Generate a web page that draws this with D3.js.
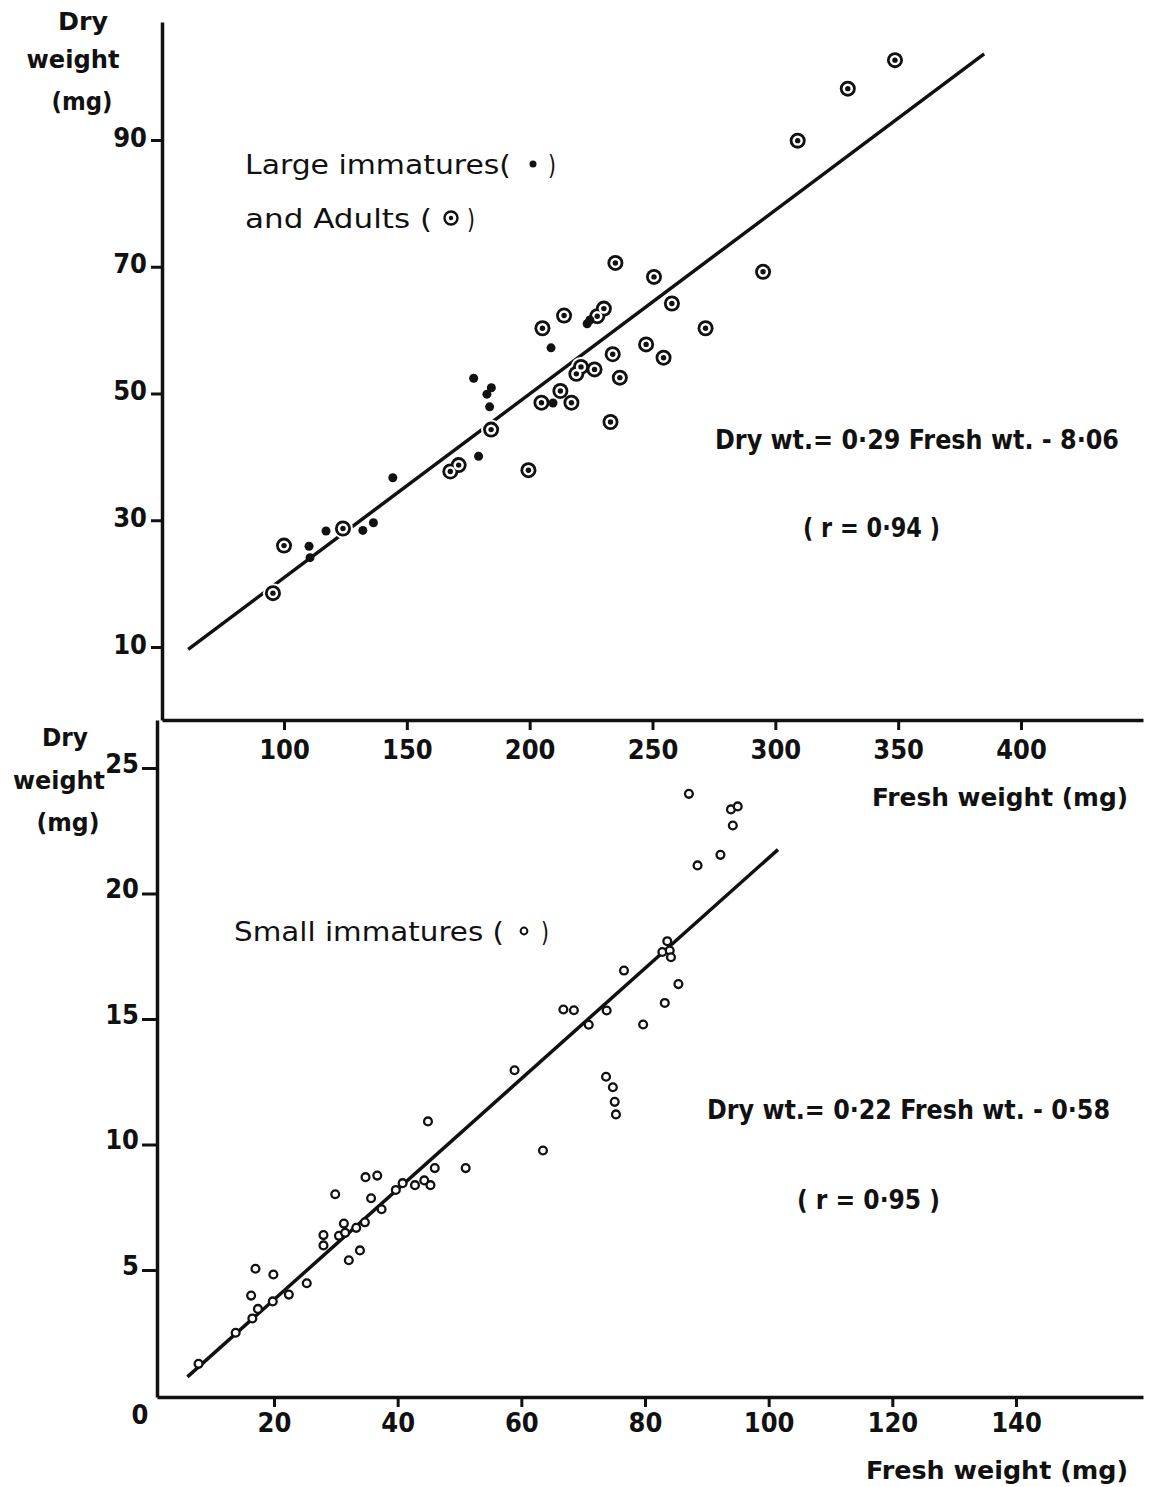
<!DOCTYPE html>
<html lang="en">
<head>
<meta charset="utf-8">
<title>Dry weight against fresh weight</title>
<script src="https://cdn.jsdelivr.net/npm/d3@7/dist/d3.min.js"></script>
<style>
  body { margin: 0; background: #fff; }
  text { fill: #111; }
</style>
</head>
<body>
<script>

//*********************************************************************//
// Data

// top panel: large immatures (filled dots)
var largeFresh = [110.2, 110.6, 117.1, 132.1, 136.4, 144.3, 179.2, 177.2, 184.4, 182.6, 183.7, 208.7, 209.5, 223.4, 224.5];
var largeDry   = [25.9, 24.1, 28.3, 28.4, 29.6, 36.7, 40.1, 52.4, 50.9, 49.9, 47.9, 57.2, 48.5, 61.0, 61.6];

// top panel: adults (dotted circles)
var adultFresh = [95.5, 100, 124, 167.7, 171.1, 184.3, 199.5, 204.8, 217, 212.5, 219.0, 220.9, 226.4, 233.8, 236.7,
                  232.9, 247.4, 254.5, 271.6, 257.9, 250.6, 234.9, 295, 227.5, 230.2, 214, 205.2, 309.1, 329.5, 348.7];
var adultDry   = [18.5, 26.0, 28.7, 37.7, 38.7, 44.3, 37.9, 48.55, 48.55, 50.4, 53.1, 54.2, 53.8, 56.2, 52.5,
                  45.5, 57.75, 55.65, 60.3, 64.2, 68.4, 70.6, 69.2, 62.2, 63.4, 62.3, 60.3, 89.9, 98.1, 102.6];

// bottom panel: small immatures (open circles)
var smallFresh = [7.8, 13.8, 16.5, 17.4, 16.3, 17.0, 19.9, 19.8, 22.4, 25.3, 28.0, 28.0, 29.9, 30.5, 31.3, 31.5,
                  32.1, 33.3, 33.9, 34.7, 34.8, 35.7, 36.7, 37.4, 39.7, 40.8, 42.8, 44.3, 45.3, 46.0, 51.0, 44.9,
                  58.9, 63.5, 87.1, 93.9, 95.0, 94.2, 92.2, 88.5, 83.6, 82.8, 84.0, 84.2, 85.4, 83.2, 76.6, 79.7,
                  73.8, 70.9, 66.8, 68.5, 73.7, 74.8, 75.1, 75.3];
var smallDry   = [1.26, 2.5, 3.07, 3.45, 3.98, 5.05, 4.82, 3.75, 4.02, 4.47, 6.39, 5.98, 8.02, 6.36, 6.85, 6.48,
                  5.39, 6.68, 5.78, 6.9, 8.7, 7.86, 8.76, 7.42, 8.19, 8.46, 8.38, 8.57, 8.38, 9.06, 9.06, 10.92,
                  12.96, 9.76, 23.97, 23.35, 23.47, 22.71, 21.54, 21.12, 18.1, 17.67, 17.73, 17.46, 16.39, 15.64, 16.93, 14.78,
                  15.34, 14.77, 15.38, 15.35, 12.7, 12.28, 11.7, 11.2];

// fitted lines: slope, intercept and fresh weight range of the drawn line
var topFit = [0.29, -8.06];
var topFitRange = [61, 385];
var botFit = [0.22, -0.58];
var botFitRange = [6, 101.5];

var topTicksX = [100, 150, 200, 250, 300, 350, 400];
var topTicksY = [10, 30, 50, 70, 90];
var botTicksX = [20, 40, 60, 80, 100, 120, 140];
var botTicksY = [5, 10, 15, 20, 25];

//*********************************************************************//
// Canvas and scales

var width = 1151, height = 1487;
var tickFont = "'Liberation Sans Narrow', 'DejaVu Sans Condensed', sans-serif";
var textFont = "'DejaVu Sans', sans-serif";

var canvas = d3.select("body").append("svg")
    .attr("width", width)
    .attr("height", height);

canvas.append("rect").attr("width", width).attr("height", height).attr("fill", "white");

// scale fixed by two reference ticks, then stretched to the axis extent
function lin(v0, p0, v1, p1, pa, pb) {
  var s = d3.scaleLinear().domain([v0, v1]).range([p0, p1]);
  return d3.scaleLinear().domain([s.invert(pa), s.invert(pb)]).range([pa, pb]);
}

var xTop = lin(100, 284, 400, 1021, 162, 1143);
var yTop = lin(10, 647, 90, 140, 720, 22);
var xBot = lin(20, 274, 140, 1016, 157, 1143);
var yBot = lin(5, 1270, 25, 768, 1397, 720);

//*********************************************************************//
// Axes

function styleAxis(g) {
  g.select(".domain").attr("stroke", "#111").attr("stroke-width", 3.5);
  g.selectAll(".tick line").attr("stroke", "#111").attr("stroke-width", 3);
  g.selectAll(".tick text")
    .style("font-family", tickFont)
    .style("font-weight", "bold")
    .style("font-size", "27px")
    .attr("fill", "#111");
}

canvas.append("g")
    .attr("transform", "translate(0,720)")
    .call(d3.axisBottom(xTop).tickValues(topTicksX).tickSize(10).tickSizeOuter(0))
    .call(styleAxis)
    .call(function(g) { g.selectAll(".tick text").attr("y", 39).attr("dy", null); });

canvas.append("g")
    .attr("transform", "translate(162,0)")
    .call(d3.axisLeft(yTop).tickValues(topTicksY).tickSize(11).tickSizeOuter(0))
    .call(styleAxis)
    .call(function(g) { g.selectAll(".tick text").attr("x", -15).attr("dy", 6); });

canvas.append("g")
    .attr("transform", "translate(0,1397)")
    .call(d3.axisBottom(xBot).tickValues(botTicksX).tickSize(10).tickSizeOuter(0))
    .call(styleAxis)
    .call(function(g) { g.selectAll(".tick text").attr("y", 35).attr("dy", null); });

canvas.append("g")
    .attr("transform", "translate(157,0)")
    .call(d3.axisLeft(yBot).tickValues(botTicksY).tickSize(15).tickSizeOuter(0))
    .call(styleAxis)
    .call(function(g) { g.selectAll(".tick text").attr("x", -18).attr("dy", 4); });

canvas.append("text")
    .attr("x", 140).attr("y", 1424)
    .attr("text-anchor", "middle")
    .style("font-family", tickFont).style("font-weight", "bold").style("font-size", "27px")
    .text("0");

//*********************************************************************//
// Fitted lines

var lineTop = d3.line().x(function(d) { return xTop(d); }).y(function(d) { return yTop(topFit[0] * d + topFit[1]); });
var lineBot = d3.line().x(function(d) { return xBot(d); }).y(function(d) { return yBot(botFit[0] * d + botFit[1]); });

canvas.append("path").attr("d", lineTop(topFitRange))
    .attr("fill", "none").attr("stroke", "#111").attr("stroke-width", 3.5);
canvas.append("path").attr("d", lineBot(botFitRange))
    .attr("fill", "none").attr("stroke", "#111").attr("stroke-width", 3.5);

//*********************************************************************//
// Points

var adults = d3.zip(adultFresh, adultDry);
var large = d3.zip(largeFresh, largeDry);
var small = d3.zip(smallFresh, smallDry);

var topPts = canvas.append("g");

// white halo so the fitted line breaks around the marks
topPts.selectAll(".halo").data(adults).enter().append("circle")
    .attr("cx", function(d) { return xTop(d[0]); })
    .attr("cy", function(d) { return yTop(d[1]); })
    .attr("r", 10).attr("fill", "white");

topPts.selectAll(".ring").data(adults).enter().append("circle")
    .attr("cx", function(d) { return xTop(d[0]); })
    .attr("cy", function(d) { return yTop(d[1]); })
    .attr("r", 8).attr("fill", "#111");
topPts.selectAll(".hole").data(adults).enter().append("circle")
    .attr("cx", function(d) { return xTop(d[0]); })
    .attr("cy", function(d) { return yTop(d[1]); })
    .attr("r", 5.2).attr("fill", "white");
topPts.selectAll(".centre").data(adults).enter().append("circle")
    .attr("cx", function(d) { return xTop(d[0]); })
    .attr("cy", function(d) { return yTop(d[1]); })
    .attr("r", 2.7).attr("fill", "#111");

topPts.selectAll(".dot").data(large).enter().append("circle")
    .attr("cx", function(d) { return xTop(d[0]); })
    .attr("cy", function(d) { return yTop(d[1]); })
    .attr("r", 4.5).attr("fill", "#111");

canvas.append("g").selectAll("circle").data(small).enter().append("circle")
    .attr("cx", function(d) { return xBot(d[0]); })
    .attr("cy", function(d) { return yBot(d[1]); })
    .attr("r", 3.9)
    .attr("fill", "white").attr("stroke", "#111").attr("stroke-width", 2.3);

//*********************************************************************//
// Texts

function label(x, y, str, len, opts) {
  opts = opts || {};
  var t = canvas.append("text")
      .attr("x", x).attr("y", y)
      .attr("text-anchor", opts.anchor || "start")
      .style("font-family", opts.font || textFont)
      .style("font-weight", opts.weight || "normal")
      .style("font-size", (opts.size || 26) + "px")
      .text(str);
  if (len) t.attr("textLength", len).attr("lengthAdjust", "spacingAndGlyphs");
  return t;
}

var bold = { font: tickFont, weight: "bold", size: 27 };
var titleOpt = { font: textFont, weight: "bold", size: 24, anchor: "middle" };

// y titles
label(83, 30, "Dry", 50, titleOpt);
label(73, 68, "weight", 93, titleOpt);
label(82, 110, "(mg)", 61, titleOpt);

label(65, 746, "Dry", 46, titleOpt);
label(59, 789, "weight", 92, titleOpt);
label(68, 831, "(mg)", 63, titleOpt);

// x titles
label(872, 806, "Fresh weight (mg)", 256, { font: textFont, weight: "bold", size: 24 });
label(866, 1479, "Fresh weight (mg)", 262, { font: textFont, weight: "bold", size: 24 });

// legends
label(245, 174, "Large immatures(", 266);
label(548, 174, ")", 8);
canvas.append("circle").attr("cx", 533).attr("cy", 164).attr("r", 3.5).attr("fill", "#111");

label(245, 228, "and Adults (", 187);
label(467, 228, ")", 8);
canvas.append("circle").attr("cx", 451).attr("cy", 218).attr("r", 6.5).attr("fill", "none").attr("stroke", "#111").attr("stroke-width", 2.4);
canvas.append("circle").attr("cx", 451).attr("cy", 218).attr("r", 2.2).attr("fill", "#111");

label(234, 941, "Small  immatures (", 270);
label(541, 941, ")", 8);
canvas.append("circle").attr("cx", 524).attr("cy", 931).attr("r", 3.4).attr("fill", "none").attr("stroke", "#111").attr("stroke-width", 2);

// equations
label(715, 449, "Dry wt.= 0\u00B729 Fresh wt. - 8\u00B706", 404, bold);
label(803, 537, "( r = 0\u00B794 )", 137, bold);
label(707, 1119, "Dry wt.= 0\u00B722 Fresh wt. - 0\u00B758", 403, bold);
label(797, 1209, "( r = 0\u00B795 )", 143, bold);

</script>
</body>
</html>
